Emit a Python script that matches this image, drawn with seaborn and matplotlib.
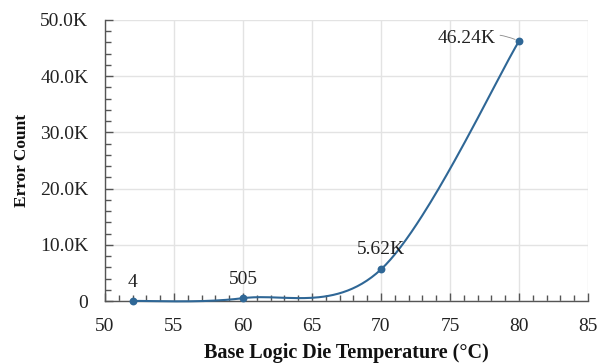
import numpy as np
import matplotlib
matplotlib.use("Agg")
import matplotlib.pyplot as plt
import seaborn as sns
import pandas as pd
from matplotlib.ticker import MultipleLocator, FuncFormatter

temps = [52, 60, 70, 80]
errors = [4, 505, 5620, 46240]
labels = ["4", "505", "5.62K", "46.24K"]

sns.set_theme(style="white")
plt.rcParams['font.family'] = ['Liberation Serif', 'DejaVu Serif']

fig = plt.figure(figsize=(5.98, 3.64), dpi=100)
ax = fig.add_axes([105/598, 1 - 301/364, 483/598, 281/364])

xmin, xmax, ymin, ymax = 50, 85, 0, 50000
ax.set_xlim(xmin, xmax)
ax.set_ylim(ymin, ymax)

# Excel-style smoothed line (Catmull-Rom Bezier in pixel-proportional space)
sx, sy = 483 / (xmax - xmin), 281 / (ymax - ymin)
P = np.column_stack([np.array(temps) * sx, np.array(errors) * sy])
Pext = np.vstack([P[0], P, P[-1]])
curve = []
t = np.linspace(0, 1, 60)[:, None]
for i in range(len(P) - 1):
    p0, p3 = Pext[i + 1], Pext[i + 2]
    c1 = p0 + (Pext[i + 2] - Pext[i]) / 6
    c2 = p3 - (Pext[i + 3] - Pext[i + 1]) / 6
    seg = (1 - t) ** 3 * p0 + 3 * (1 - t) ** 2 * t * c1 + 3 * (1 - t) * t ** 2 * c2 + t ** 3 * p3
    curve.append(seg)
curve = np.vstack(curve)
line_color = "#2F6796"
ax.plot(curve[:, 0] / sx, curve[:, 1] / sy, color=line_color, lw=1.5, zorder=3,
        clip_on=False)

df = pd.DataFrame({"temp": temps, "err": errors})
sns.scatterplot(data=df, x="temp", y="err", ax=ax, color=line_color, s=32,
                edgecolor=line_color, linewidth=0, zorder=5, clip_on=False)

# data labels
fs = 14
ax.annotate(labels[0], (temps[0], errors[0]), xytext=(0, 7), textcoords="offset points",
            ha="center", va="bottom", fontsize=fs, color="#222222")
ax.annotate(labels[1], (temps[1], errors[1]), xytext=(0, 7), textcoords="offset points",
            ha="center", va="bottom", fontsize=fs, color="#222222")
ax.annotate(labels[2], (temps[2], errors[2]), xytext=(0, 8), textcoords="offset points",
            ha="center", va="bottom", fontsize=fs, color="#222222")
ax.annotate(labels[3], (temps[3], errors[3]), xytext=(-17, 2), textcoords="offset points",
            ha="right", va="center", fontsize=fs, color="#222222",
            arrowprops=dict(arrowstyle="-", color="#888888", lw=0.6,
                            connectionstyle="arc3,rad=-0.2", shrinkA=1, shrinkB=3))

# grid and axes
ax.xaxis.set_major_locator(MultipleLocator(5))
ax.xaxis.set_minor_locator(MultipleLocator(1))
ax.yaxis.set_major_locator(MultipleLocator(10000))
ax.yaxis.set_minor_locator(MultipleLocator(2000))
ax.yaxis.set_major_formatter(FuncFormatter(lambda v, p: "0" if v == 0 else f"{v/1000:.1f}K"))
ax.grid(True, which="major", color="#E3E3E3", lw=1.0)
ax.set_axisbelow(True)
for s in ["top", "right"]:
    ax.spines[s].set_visible(False)
for s in ["left", "bottom"]:
    ax.spines[s].set_color("#555555")
    ax.spines[s].set_linewidth(1.0)
ax.tick_params(axis="both", which="major", direction="in", length=6, width=1.0,
               color="#555555", labelsize=fs, labelcolor="#222222", pad=12)
ax.tick_params(axis="both", which="minor", direction="in", length=4, width=1.0,
               color="#555555")
ax.tick_params(left=True, bottom=True, which="both")

ax.set_xlabel("Base Logic Die Temperature (\u00b0C)", fontsize=14.5, fontweight="bold",
              color="#111111", labelpad=6)
ax.set_ylabel("Error Count", fontsize=12.5, fontweight="bold", color="#111111", labelpad=7)

fig.savefig("out.png", dpi=100)
